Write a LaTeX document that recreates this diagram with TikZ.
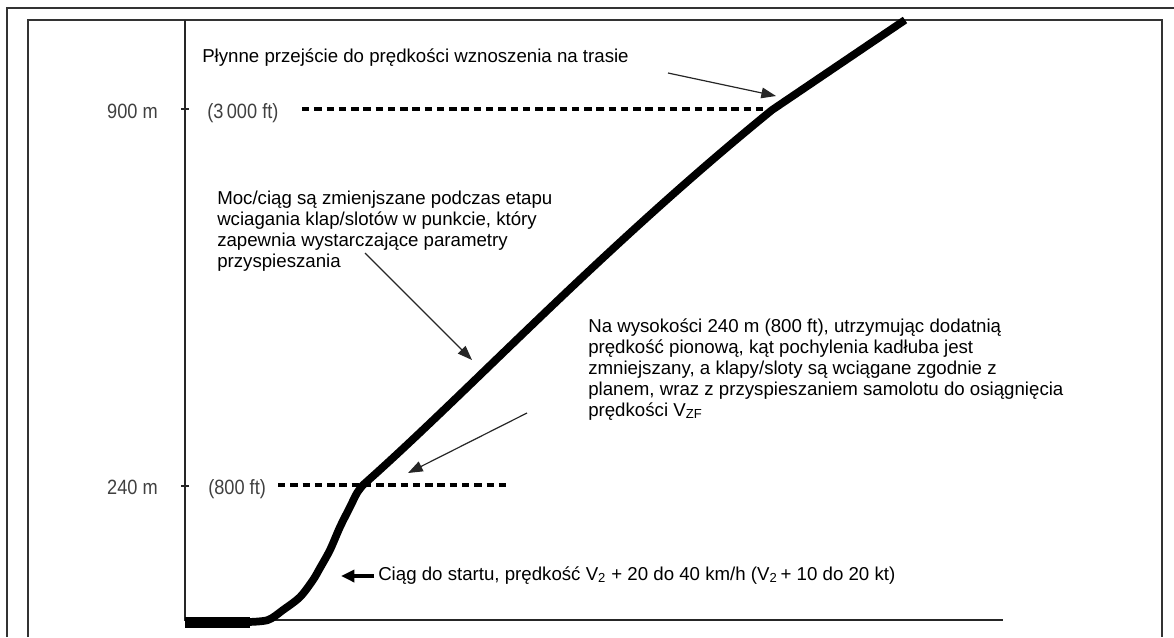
\documentclass[tikz,border=0pt]{standalone}
\usepackage{fontspec}
\setmainfont{Liberation Sans}
\newfontfamily\axisfont[FakeStretch=0.88]{Liberation Sans}
\usetikzlibrary{arrows.meta}

\begin{document}
\begin{tikzpicture}[x=0.75pt,y=-0.75pt,
    frame/.style={line width=1.5pt,black!80},
    axis/.style={line width=1.1pt,black!85},
    level/.style={dash pattern=on 5.6pt off 3.6pt,line width=2.3pt},
    climb/.style={line width=5.8pt,line join=round},
    note/.style={anchor=base west,inner sep=0pt,align=left,font=\fontsize{14pt}{15.75pt}\selectfont},
    height/.style={anchor=base east,inner sep=0pt,text=black!75,font=\axisfont\fontsize{15.5pt}{18pt}\selectfont},
    feet/.style={anchor=base west,inner sep=0pt,text=black!75,font=\axisfont\fontsize{15.5pt}{18pt}\selectfont},
    pointer/.style={-{Triangle[length=11pt,width=8pt]},line width=0.9pt,black!85},
    bigpointer/.style={-{Triangle[length=10pt,width=9pt]},line width=2.6pt}
  ]
    \useasboundingbox (0,0) rectangle (1174,637);

    % Outer and inner frame (open at the bottom)
    \draw[frame] (7,637) -- (7,7.5) -- (1174,7.5);
    \draw[frame] (28,637) -- (28,20) -- (1162,20) -- (1162,637);

    % Axes
    \draw[axis] (185,20) -- (185,620) -- (1003,620);
    \draw[axis] (181,109) -- (189,109);
    \draw[axis] (181,486) -- (189,486);

    % Height marks
    \node[height] (lbl900) at (158,118) {900 m};
    \node[feet] (ft3000) at (207,118) {(3\,000 ft)};
    \node[height] (lbl240) at (158,494) {240 m};
    \node[feet] (ft800) at (208,494) {(800 ft)};

    % Levels (dashed)
    \draw[level] (302,109) -- (768,109);
    \draw[level] (278,485) -- (507,485);

    % Take-off roll and climb profile
    \fill (185,617) rectangle (250,628);
    \draw[climb] plot[smooth,tension=0.5] coordinates {(248,622) (268,620) (283,610) (300,597)
      (313,580) (320,568) (330,550) (340,527) (350,507) (357,493) (363,485)}
      .. controls (470,390) and (600,250) .. (772,110)
      -- (905,20);

    % Notes (base = baseline of the last line)
    \node[note] (route) at (202,62) {Płynne przejście do prędkości wznoszenia na trasie};
    \node[note] (power) at (217,267) {Moc/ciąg są zmienjszane podczas etapu\\wciagania klap/slotów w punkcie, który\\zapewnia wystarczające parametry\\przyspieszania};
    \node[note] (accel) at (588,416) {Na wysokości 240 m (800 ft), utrzymując dodatnią\\prędkość pionową, kąt pochylenia kadłuba jest\\zmniejszany, a klapy/sloty są wciągane zgodnie z\\planem, wraz z przyspieszaniem samolotu do osiągnięcia\\prędkości V\textsubscript{ZF}};
    \node[note] (takeoff) at (378,580) {Ciąg do startu, prędkość V\textsubscript{2} + 20 do 40 km/h (V\textsubscript{2}\,+ 10 do 20 kt)};

    % Pointers onto the profile
    \coordinate (routeFrom) at (668,73);
    \coordinate (routeTo) at (776,96);
    \coordinate (powerFrom) at (365,253);
    \coordinate (powerTo) at (472,360);
    \coordinate (accelFrom) at (527,413);
    \coordinate (accelTo) at (408,473);
    \coordinate (takeoffFrom) at (374,576);
    \coordinate (takeoffTo) at (341,576);
    \draw[pointer] (routeFrom) -- (routeTo);
    \draw[pointer] (powerFrom) -- (powerTo);
    \draw[pointer] (accelFrom) -- (accelTo);
    \draw[bigpointer] (takeoffFrom) -- (takeoffTo);
\end{tikzpicture}
\end{document}
